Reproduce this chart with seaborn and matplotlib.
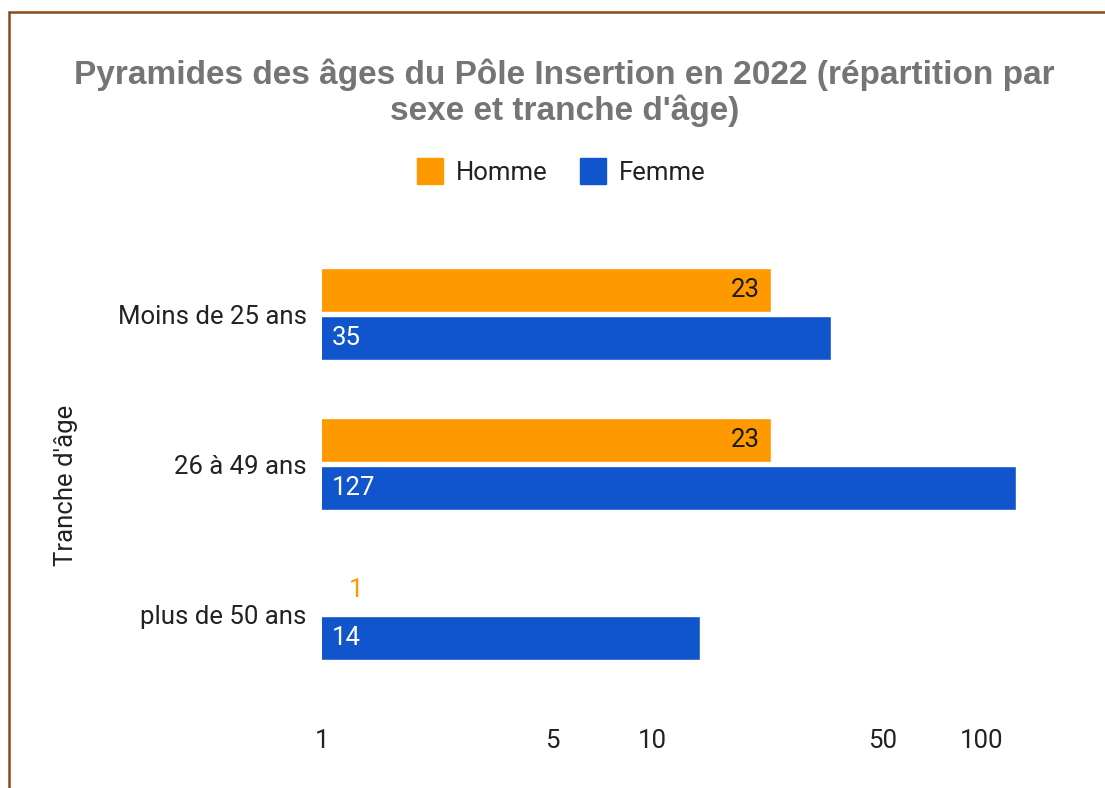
import pandas as pd
import seaborn as sns
import matplotlib.pyplot as plt
from matplotlib.lines import Line2D

# Data
age_groups = ["Moins de 25 ans", "26 à 49 ans", "plus de 50 ans"]
homme = [23, 23, 1]
femme = [35, 127, 14]
x_ticks = [1, 5, 10, 50, 100]

df = pd.DataFrame({
    "tranche": age_groups * 2,
    "sexe": ["Homme"] * len(age_groups) + ["Femme"] * len(age_groups),
    "valeur": homme + femme,
})

colors = {"Homme": "#ff9900", "Femme": "#1155cc"}

sns.set_style("white")
plt.rcParams["font.family"] = ["Roboto", "DejaVu Sans"]

fig = plt.figure(figsize=(11.05, 7.88), dpi=100)
ax = fig.add_axes([0.2914, 0.1256, 0.6579, 0.5711])

sns.barplot(data=df, y="tranche", x="valeur", hue="sexe", palette=colors,
            orient="h", width=0.65, gap=0.1, saturation=1, legend=False, ax=ax)

ax.set_xscale("log")
ax.set_xlim(1, 160)
ax.set_ylim(2.5, -0.5)
ax.set_xticks(x_ticks)
ax.set_xticklabels([str(t) for t in x_ticks])
ax.minorticks_off()
ax.tick_params(axis="x", length=0, pad=29, labelsize=18.5, labelcolor="#222222")
ax.tick_params(axis="y", length=0, pad=11, labelsize=18.5, labelcolor="#222222")
for s in ax.spines.values():
    s.set_visible(False)

ax.set_xlabel("")
ax.set_ylabel("Tranche d'âge", fontsize=18.5, color="#222222")
ax.yaxis.set_label_coords(-0.3356, 0.453)

# value labels
homme_bars, femme_bars = ax.containers[0], ax.containers[1]
for bar, v in zip(homme_bars, homme):
    yc = bar.get_y() + bar.get_height() / 2
    if v > 1:
        ax.annotate(str(v), (v, yc), xytext=(-11, 0), textcoords="offset pixels",
                    ha="right", va="center", fontsize=18.5, color="#1a1a1a")
    else:
        ax.annotate(str(v), (1, yc), xytext=(27, 0), textcoords="offset pixels",
                    ha="left", va="center", fontsize=18.5, color="#ff9900")
for bar, v in zip(femme_bars, femme):
    yc = bar.get_y() + bar.get_height() / 2
    ax.annotate(str(v), (1, yc), xytext=(10, 0), textcoords="offset pixels",
                ha="left", va="center", fontsize=18.5, color="white")

# title and legend
fig.text(0.511, 1 - 93 / 788, "Pyramides des âges du Pôle Insertion en 2022 (répartition par\nsexe et tranche d'âge)",
         ha="center", va="center", fontsize=24, fontweight="bold", color="#757575",
         family=["Liberation Sans", "DejaVu Sans"], linespacing=1.13)

handles = [Line2D([], [], marker="s", linestyle="", markersize=18.5,
                  markerfacecolor=colors[k], markeredgecolor=colors[k], label=k)
           for k in ["Homme", "Femme"]]
fig.legend(handles=handles, loc="center", bbox_to_anchor=(0.508, 1 - 173 / 788),
           ncol=2, frameon=False, fontsize=18.5, handlelength=1.0,
           handletextpad=0.5, columnspacing=1.3, labelcolor="#222222")

# frame lines of the screenshot
fig.add_artist(Line2D([0.0081, 1.0], [0.9848, 0.9848], transform=fig.transFigure,
                      color="#8b4a1c", lw=1.8))
fig.add_artist(Line2D([0.0081, 0.0081], [0.0, 0.9848], transform=fig.transFigure,
                      color="#8b4a1c", lw=1.8))

fig.savefig("out.png", dpi=100)
